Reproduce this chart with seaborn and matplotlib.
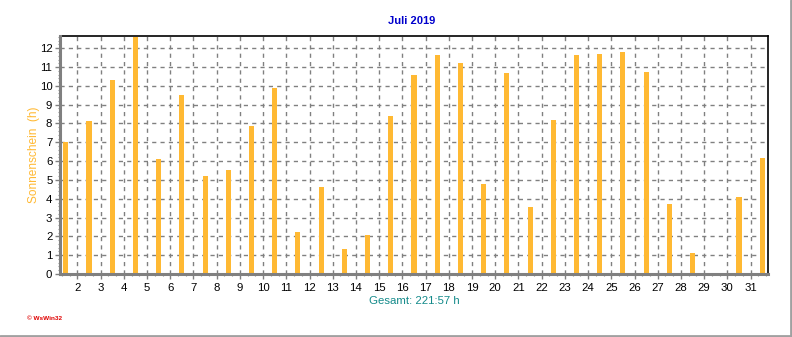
import numpy as np
import pandas as pd
import matplotlib
matplotlib.use("Agg")
import matplotlib.pyplot as plt
from matplotlib.ticker import MultipleLocator, FixedLocator
from matplotlib.lines import Line2D
import seaborn as sns

# ---- data ----
days = list(range(1, 32))
sunshine_h = [7.00, 8.15, 10.32, 12.62, 6.09, 9.53, 5.19, 5.51, 7.89, 9.90,
              2.22, 4.61, 1.32, 2.06, 8.42, 10.59, 11.65, 11.22, 4.76, 10.69,
              3.55, 8.21, 11.65, 11.70, 11.81, 10.75, 3.71, 1.11, 0.05, 4.08, 6.19]
tick_labels = [str(d) for d in days[1:]]
title = "Juli 2019"
ylabel = "Sonnenschein  (h)"
xlabel = "Gesamt: 221:57 h"

df = pd.DataFrame({"Tag": days, "Sonnenschein": sunshine_h})

sns.set_style("white")
plt.rcParams["font.family"] = ["Liberation Sans", "DejaVu Sans"]

fig = plt.figure(figsize=(7.92, 3.37), dpi=100)
ax = fig.add_axes([60/792, 1-274/337, (768-60)/792, (274-36)/337])

sns.barplot(data=df, x="Tag", y="Sonnenschein", native_scale=True,
            color="#FFB933", saturation=1, width=0.22, errorbar=None, ax=ax,
            linewidth=0, zorder=3)
for p in ax.patches:
    p.set_antialiased(False)
    p.set_linewidth(0)

ax.set_xlim(0.75, 31.25)
ax.set_ylim(0, 12.65)

# ticks
major_x = [d - 0.5 for d in days[1:]]
ax.xaxis.set_major_locator(FixedLocator(major_x))
ax.set_xticklabels(tick_labels)
minor_x = [0.5 + i/3 for i in range(0, 93) if i % 3 != 0 and 0.75 <= 0.5 + i/3 <= 31.25]
ax.xaxis.set_minor_locator(FixedLocator(minor_x))
ax.yaxis.set_major_locator(MultipleLocator(1))
ax.yaxis.set_minor_locator(MultipleLocator(0.2))

ax.tick_params(axis="both", which="major", labelsize=8.2, colors="#808080",
               labelcolor="black", direction="out", length=3.5, width=1)
ax.tick_params(axis="both", which="minor", colors="#909090",
               direction="out", length=1.6, width=0.8)
ax.tick_params(axis="x", which="both", bottom=True, pad=3)
ax.tick_params(axis="y", which="both", left=True, pad=2)

ax.grid(True, which="major", axis="both", color="#808080",
        linestyle=(0, (3, 3)), linewidth=1, zorder=0)
ax.set_axisbelow(True)

for side in ["left", "bottom"]:
    ax.spines[side].set_color("#808080")
    ax.spines[side].set_linewidth(2.2)
    ax.spines[side].set_zorder(5)
for side in ["top", "right"]:
    ax.spines[side].set_color("black")
    ax.spines[side].set_linewidth(1.2)

ax.set_xlabel(xlabel, color="#138A8A", fontsize=8.2, labelpad=2)
ax.set_ylabel(ylabel, color="#FFB933", fontsize=8.6, labelpad=0)

fig.text(412/792, 1-21/337, title, color="#0000CC", fontsize=8,
         fontweight="bold", ha="center", va="center")
fig.text(27/792, 1-319/337, "\u00a9 WsWin32", color="#E00000", fontsize=4.6,
         fontweight="bold", ha="left", va="center")

# outer gray frame (right & bottom)
fig.add_artist(Line2D([0, 1-1/792], [1.5/337, 1.5/337], color="#A0A0A0",
                      linewidth=2, transform=fig.transFigure))
fig.add_artist(Line2D([1-1.5/792, 1-1.5/792], [0, 1], color="#A0A0A0",
                      linewidth=2, transform=fig.transFigure))

fig.savefig("out.png", dpi=100, facecolor="white")
